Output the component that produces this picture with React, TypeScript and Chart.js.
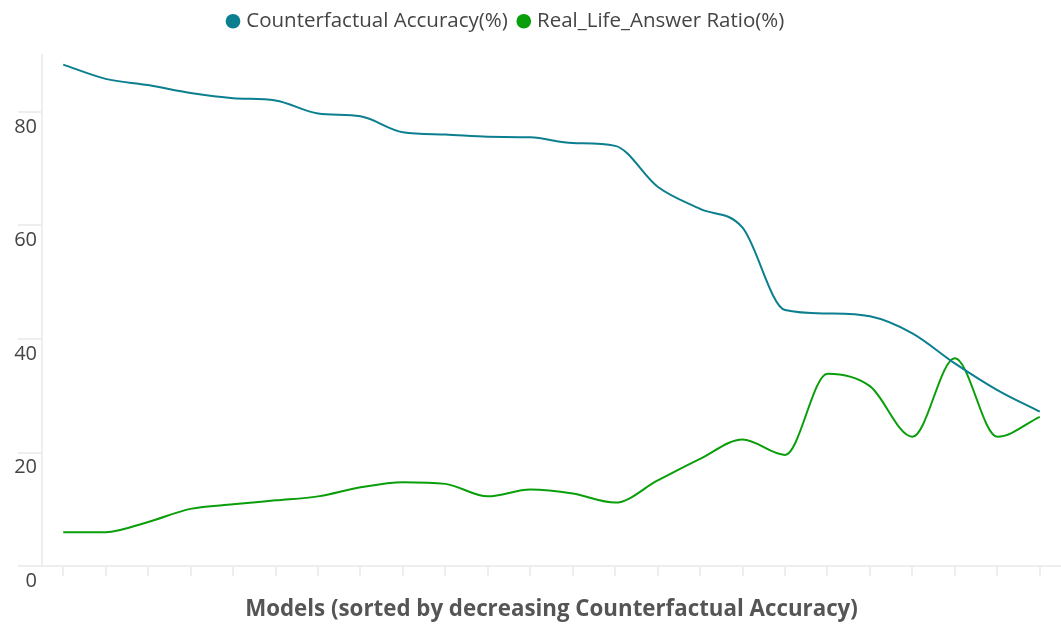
import React, { useEffect, useRef } from "react";
import { Chart, registerables } from "chart.js";

Chart.register(...registerables);

const categories: string[] = [
  "M1", "M2", "M3", "M4", "M5", "M6", "M7", "M8", "M9", "M10", "M11", "M12",
  "M13", "M14", "M15", "M16", "M17", "M18", "M19", "M20", "M21", "M22", "M23", "M24",
];

const counterfactualAccuracy: number[] = [
  88.3, 85.8, 84.7, 83.3, 82.4, 82.0, 79.7, 79.2, 76.4, 76.0, 75.6, 75.5,
  74.5, 74.0, 66.8, 62.9, 59.6, 45.1, 44.5, 44.0, 41.0, 35.7, 31.0, 27.2,
];

const realLifeAnswerRatio: number[] = [
  6.0, 6.0, 7.8, 10.1, 10.9, 11.6, 12.3, 13.9, 14.8, 14.5, 12.3, 13.5,
  12.8, 11.2, 15.1, 18.9, 22.3, 19.6, 33.9, 31.7, 22.8, 36.6, 22.8, 26.3,
];

const yTicks: number[] = [0, 20, 40, 60, 80];

const FONT = "'Open Sans', 'Noto Sans', sans-serif";

const legendLayoutPlugin = {
  id: "legendLayout",
  beforeInit(chart: any) {
    const legend = chart.legend;
    if (!legend) return;
    const origFit = legend.fit;
    legend.fit = function () {
      origFit.call(this);
      this.height = 55;
    };
  },
  beforeDraw(chart: any) {
    const legend = chart.legend;
    if (!legend) return;
    legend.left = 217;
    legend.top = -2;
  },
};

export default function App() {
  const ref = useRef<HTMLCanvasElement | null>(null);

  useEffect(() => {
    if (!ref.current) return;
    const chart = new Chart(ref.current, {
      type: "line",
      data: {
        labels: categories,
        datasets: [
          {
            label: "Counterfactual Accuracy(%)",
            data: counterfactualAccuracy,
            borderColor: "#0b7f8f",
            backgroundColor: "#0b7f8f",
            borderWidth: 2,
            pointRadius: 0,
            cubicInterpolationMode: "monotone",
          },
          {
            label: "Real_Life_Answer Ratio(%)",
            data: realLifeAnswerRatio,
            borderColor: "#0a9e0a",
            backgroundColor: "#0a9e0a",
            borderWidth: 2,
            pointRadius: 0,
            cubicInterpolationMode: "monotone",
          },
        ],
      },
      options: {
        animation: false,
        responsive: true,
        maintainAspectRatio: false,
        layout: { padding: { top: 0, right: 0, left: 0, bottom: 0 } },
        plugins: {
          legend: {
            position: "top",
            align: "start",
            labels: {
              usePointStyle: true,
              pointStyle: "circle",
              boxWidth: 6,
              boxHeight: 9,
              padding: 13,
              color: "#444",
              font: { family: FONT, size: 20.5 },
            },
          },
          tooltip: { enabled: false },
        },
        scales: {
          x: {
            type: "category",
            offset: true,
            grid: {
              offset: false,
              drawOnChartArea: false,
              drawTicks: true,
              tickLength: 10,
              color: "#eeeeee",
              lineWidth: 2,
            },
            border: { display: true, color: "#eeeeee", width: 2 },
            ticks: { display: false },
            title: {
              display: true,
              text: "Models (sorted by decreasing Counterfactual Accuracy)",
              color: "#555",
              font: { family: FONT, size: 22.3, weight: "bold" },
              padding: { top: 20, bottom: 1 },
            },
          },
          y: {
            min: 0,
            max: 90,
            afterBuildTicks: (axis: any) => {
              axis.ticks = yTicks.map((v) => ({ value: v }));
            },
            afterFit: (axis: any) => {
              axis.width = 42;
            },
            grid: {
              drawOnChartArea: false,
              drawTicks: true,
              tickLength: 24,
              color: "#eeeeee",
              lineWidth: 2,
            },
            border: { display: true, color: "#eeeeee", width: 2 },
            ticks: {
              padding: -19,
              labelOffset: 15,
              color: "#444",
              font: { family: FONT, size: 20 },
            },
          },
        },
      },
      plugins: [legendLayoutPlugin],
    });
    return () => chart.destroy();
  }, []);

  return (
    <div style={{ position: "absolute", left: 0, top: 0, width: 1061, height: 624 }}>
      <canvas ref={ref} />
    </div>
  );
}
